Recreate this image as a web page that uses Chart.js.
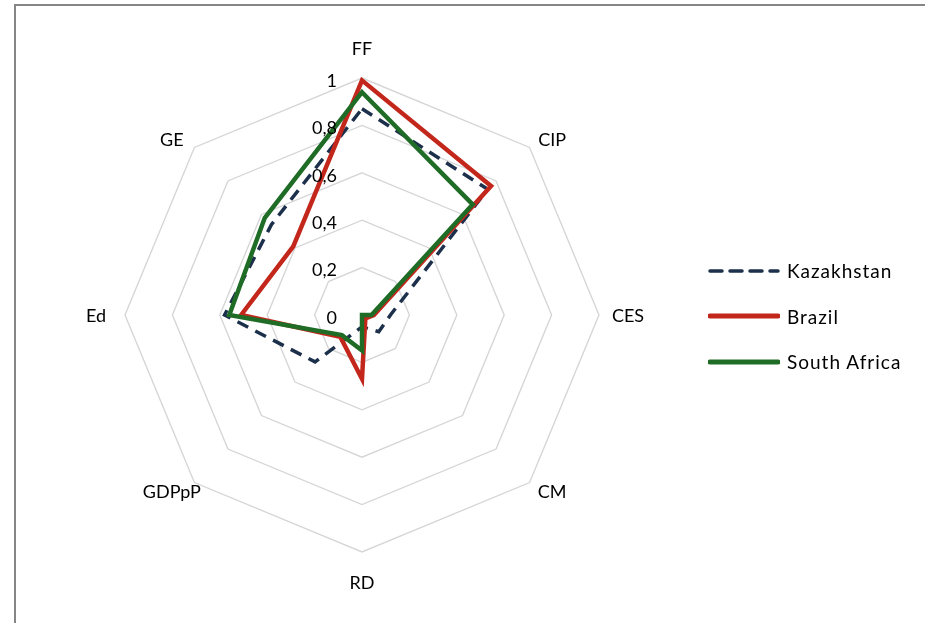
<!DOCTYPE html>
<html>
<head>
<meta charset="utf-8">
<script src="https://cdn.jsdelivr.net/npm/chart.js@4/dist/chart.umd.min.js"></script>
<style>
  html, body { margin: 0; padding: 0; background: #fff; overflow: hidden; }
  #wrap { position: relative; width: 925px; height: 623px; overflow: hidden; }
  #frame { position: absolute; left: 14px; top: 4px; width: 1000px; height: 1000px;
           border: 2px solid #868686; box-sizing: border-box; }
  #chart { position: absolute; left: 0; top: 0; }
  #legend { position: absolute; left: 708px; top: 248px; font-family: Lato, "Open Sans", sans-serif;
            font-size: 19px; letter-spacing: 1px; color: #000; }
  .item { display: flex; align-items: center; height: 45.5px; }
  .item svg { margin-right: 7px; }
</style>
</head>
<body>
<div id="wrap">
  <div id="frame"></div>
  <canvas id="chart" width="925" height="623"></canvas>
  <div id="legend"></div>
</div>
<script>
// Indicator axes, clockwise from the top
const categories = ['FF', 'CIP', 'CES', 'CM', 'RD', 'GDPpP', 'Ed', 'GE'];

// Normalised scores per country
const kazakhstan  = [0.87, 0.75, 0.12, 0.10, 0.05, 0.28, 0.58, 0.54];
const brazil      = [0.99, 0.77, 0.05, 0.02, 0.27, 0.13, 0.51, 0.41];
const southAfrica = [0.94, 0.66, 0.04, 0.00, 0.15, 0.12, 0.56, 0.58];

// Radial tick labels (decimal comma)
const tickLabels = ['0', '0,2', '0,4', '0,6', '0,8', '1'];

const FONT = 'Lato, "Open Sans", sans-serif';

const seriesStyle = [
  { label: 'Kazakhstan',   data: kazakhstan,  color: '#1c2f4b', dash: [12, 8], order: 3 },
  { label: 'Brazil',       data: brazil,      color: '#c3271c', dash: [],      order: 2 },
  { label: 'South Africa', data: southAfrica, color: '#1f6c26', dash: [],      order: 1 }
];

// Axis names and tick labels drawn from the radial scale's own geometry
const labelPlugin = {
  id: 'radarText',
  afterDraw(chart) {
    const scale = chart.scales.r;
    const ctx = chart.ctx;
    ctx.save();
    ctx.fillStyle = '#000';
    ctx.font = '18px ' + FONT;
    ctx.textBaseline = 'middle';

    // tick labels, right-aligned just left of the vertical axis
    ctx.textAlign = 'right';
    scale.ticks.forEach((t, i) => {
      const d = scale.getDistanceFromCenterForValue(t.value);
      ctx.fillText(tickLabels[i], scale.xCenter - 25, scale.yCenter - d + 3);
    });

    // point labels around the outer ring
    ctx.textAlign = 'center';
    categories.forEach((name, i) => {
      const diag = i % 2 === 1;
      const vertical = i === 0 || i === 4;
      const p = scale.getPointPosition(i, scale.drawingArea + (diag ? 22 : (vertical ? 30 : 29)));
      let x = p.x, y = p.y;
      if (diag) {
        x += Math.sign(p.x - scale.xCenter) * 7;
        y -= Math.sign(p.y - scale.yCenter) * 7;
      }
      ctx.fillText(name, x, y + 1);
    });
    ctx.restore();
  }
};

const chart = new Chart(document.getElementById('chart'), {
  type: 'radar',
  data: {
    labels: categories,
    datasets: seriesStyle.map(s => ({
      label: s.label,
      data: s.data,
      borderColor: s.color,
      backgroundColor: s.color,
      borderWidth: s.dash.length ? 3.5 : 4.5,
      borderDash: s.dash,
      pointRadius: 0,
      pointHoverRadius: 0,
      fill: false,
      tension: 0,
      order: s.order
    }))
  },
  options: {
    responsive: false,
    animation: false,
    events: [],
    layout: { padding: { left: 125, top: 78, right: 325, bottom: 70 } },
    plugins: { legend: { display: false }, tooltip: { enabled: false } },
    scales: {
      r: {
        min: 0,
        max: 1,
        ticks: { stepSize: 0.2, display: false },
        pointLabels: { display: false },
        angleLines: { display: false },
        grid: { color: '#d6d6d6', lineWidth: 1.4 }
      }
    }
  },
  plugins: [labelPlugin]
});

// Legend built from the datasets
const legend = document.getElementById('legend');
seriesStyle.forEach(s => {
  const row = document.createElement('div');
  row.className = 'item';
  const dash = s.dash.length ? 'stroke-dasharray="12 8"' : '';
  const w = s.dash.length ? 3.5 : 5;
  row.innerHTML = '<svg width="72" height="10"><line x1="2" y1="5" x2="70" y2="5" stroke="' + s.color +
    '" stroke-width="' + w + '" stroke-linecap="round" ' + dash + '/></svg><span>' + s.label + '</span>';
  legend.appendChild(row);
});
</script>
</body>
</html>
